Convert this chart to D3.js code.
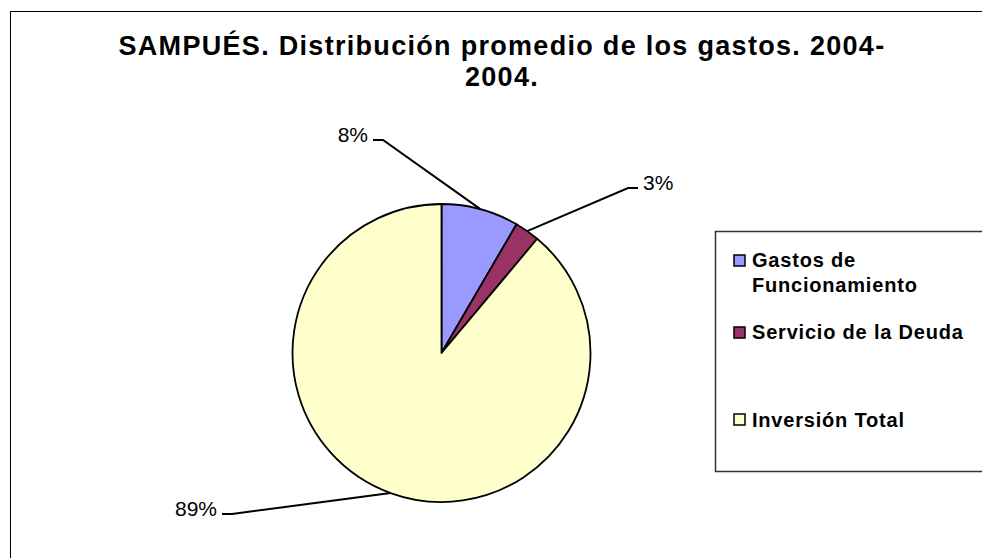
<!DOCTYPE html>
<html>
<head>
<meta charset="utf-8">
<script src="https://cdn.jsdelivr.net/npm/d3@7"></script>
<style>
  body { margin: 0; background: #fff; }
  svg { display: block; font-family: "Liberation Sans", Arial, sans-serif; }
</style>
</head>
<body>
<svg id="chart" width="982" height="558"></svg>
<script>
'use strict';
// Chart data
const categories = ['Gastos de Funcionamiento', 'Servicio de la Deuda', 'Inversión Total'];
const shares = [8.4, 2.7, 88.9];
const labels = ['8%', '3%', '89%'];
const colors = ['#9999FF', '#993366', '#FFFFCC'];
const titleLines = ['SAMPUÉS. Distribución promedio de los gastos. 2004-', '2004.'];

// where Excel left the data labels (elbow of each leader line)
const labelElbows = [
    { x: 383, y: 140, side: -1 },
    { x: 628, y: 188, side: 1 },
    { x: 232, y: 514, side: -1 }
];

const svg = d3.select('#chart');
const center = { x: 441.5, y: 353 };
const radius = 149;

// outer chart frame
svg.append('rect')
    .attr('x', 10.5)
    .attr('y', 11.5)
    .attr('width', 1000)
    .attr('height', 600)
    .attr('fill', 'none')
    .attr('stroke', '#000');

// title
svg.append('g')
    .selectAll('text')
    .data(titleLines)
    .enter()
    .append('text')
    .attr('x', 502)
    .attr('y', (d, i) => 55 + i * 31)
    .attr('text-anchor', 'middle')
    .style('font-size', '27px')
    .style('font-weight', 'bold')
    .style('letter-spacing', '1.3px')
    .text(d => d);

// pie
const pie = d3.pie().sort(null).value(d => d)(shares);
const arc = d3.arc().innerRadius(0).outerRadius(radius);

const pieG = svg.append('g')
    .attr('transform', 'translate(' + center.x + ',' + center.y + ')');

pieG.selectAll('path')
    .data(pie)
    .enter()
    .append('path')
    .attr('d', arc)
    .attr('fill', (d, i) => colors[i])
    .attr('stroke', '#000')
    .attr('stroke-width', 1.8)
    .attr('stroke-linejoin', 'round');

// leader lines + labels
const labelG = svg.append('g');
pie.forEach((d, i) => {
    const mid = (d.startAngle + d.endAngle) / 2;
    const edge = [center.x + radius * Math.sin(mid), center.y - radius * Math.cos(mid)];
    const elbow = labelElbows[i];
    const end = [elbow.x + elbow.side * 10, elbow.y];

    labelG.append('path')
        .attr('d', d3.line()([edge, [elbow.x, elbow.y], end]))
        .attr('fill', 'none')
        .attr('stroke', '#000')
        .attr('stroke-width', 2);

    labelG.append('text')
        .attr('x', end[0] + elbow.side * 5)
        .attr('y', elbow.y + 1.5)
        .attr('text-anchor', elbow.side < 0 ? 'end' : 'start')
        .style('font-size', '21px')
        .text(labels[i]);
});

// legend
const legend = svg.append('g');
legend.append('rect')
    .attr('x', 715.5)
    .attr('y', 231.5)
    .attr('width', 300)
    .attr('height', 240)
    .attr('fill', '#fff')
    .attr('stroke', '#333')
    .attr('stroke-width', 1.5);

const legendRows = [
    { box: 255, lines: ['Gastos de', 'Funcionamiento'], base: 267 },
    { box: 327, lines: ['Servicio de la Deuda'], base: 339 },
    { box: 414, lines: ['Inversión Total'], base: 427 }
];

legendRows.forEach((row, i) => {
    legend.append('rect')
        .attr('x', 734)
        .attr('y', row.box)
        .attr('width', 11)
        .attr('height', 11)
        .attr('fill', colors[i])
        .attr('stroke', '#000')
        .attr('stroke-width', 1.5);

    legend.append('text')
        .attr('x', 752)
        .attr('y', row.base)
        .style('font-size', '20px')
        .style('font-weight', 'bold')
        .style('letter-spacing', '0.8px')
        .selectAll('tspan')
        .data(row.lines)
        .enter()
        .append('tspan')
        .attr('x', 752)
        .attr('dy', (d, j) => j === 0 ? 0 : 25)
        .text(d => d);
});
</script>
</body>
</html>
